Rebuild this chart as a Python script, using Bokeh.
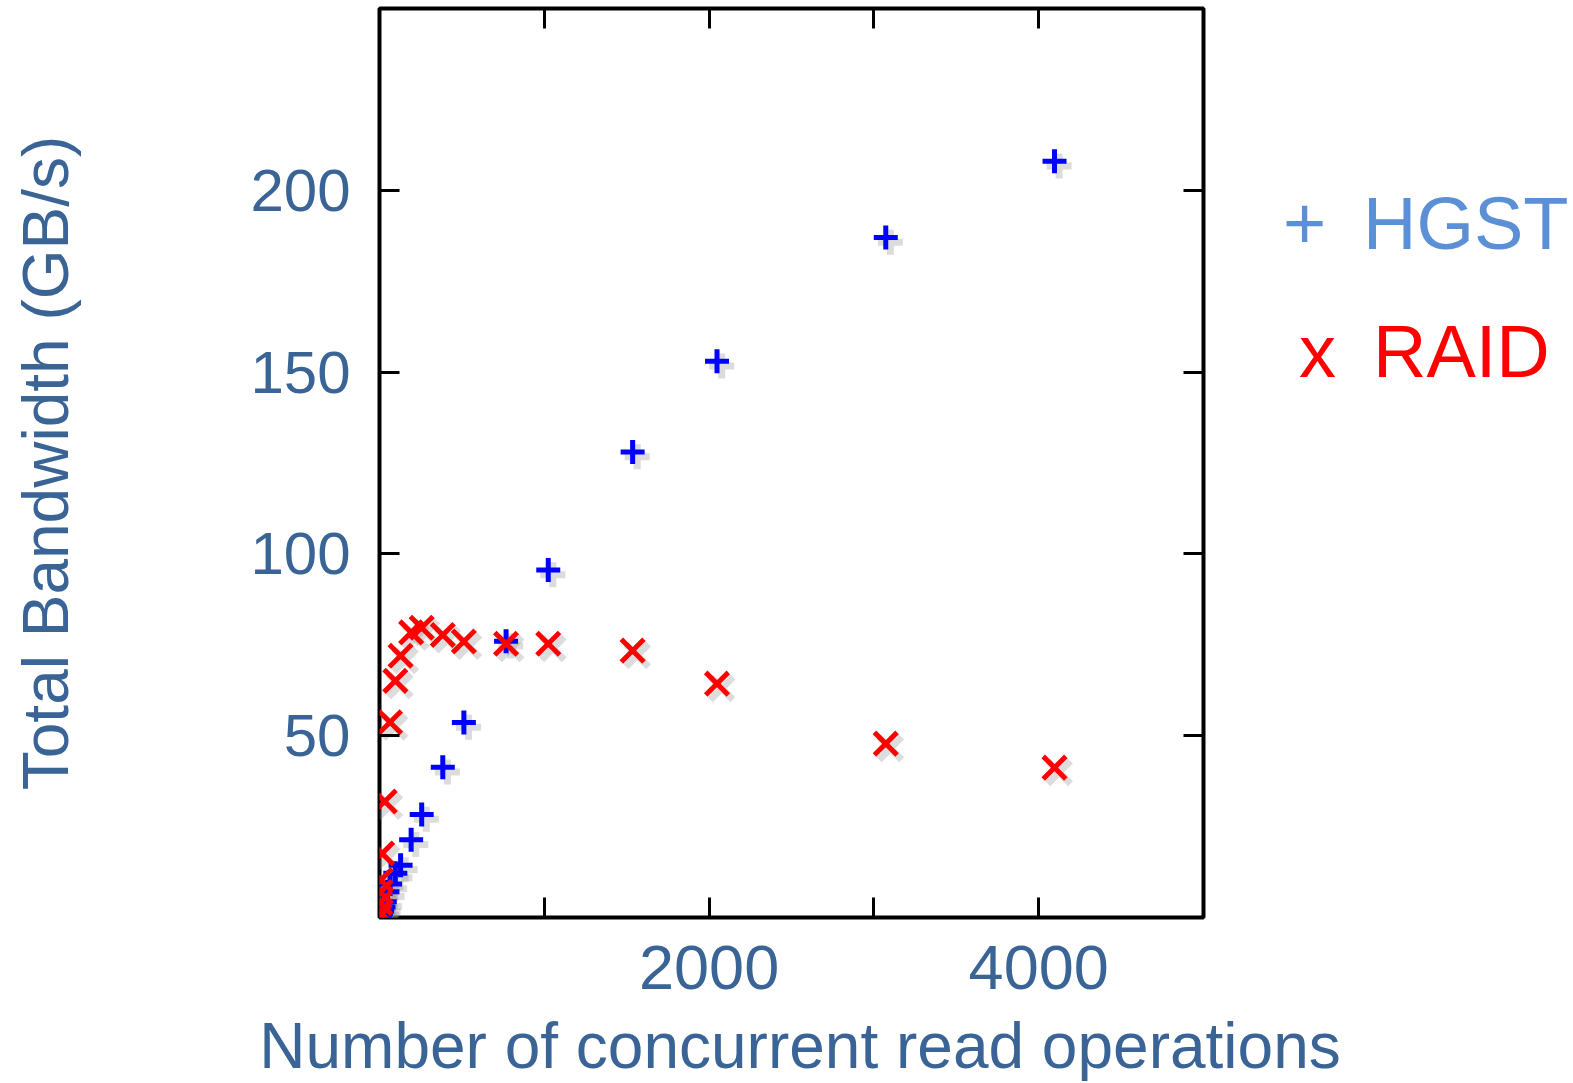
from bokeh.plotting import figure
from bokeh.models import ColumnDataSource, FixedTicker, LinearAxis, Div
from bokeh.layouts import row, column
from bokeh.transform import dodge
from bokeh.embed import file_html
from bokeh.resources import INLINE

# ---- data ----
hgst_ops = [1, 2, 4, 8, 16, 24, 32, 48, 64, 96, 128, 192, 256, 384, 512, 768,
            1024, 1536, 2048, 3072, 4096]
hgst_bw = [0.1, 0.3, 0.5, 1.0, 1.8, 2.9, 4.3, 7.1, 9.2, 12.2, 14.4, 21.4, 28.3,
           41.3, 53.6, 76.0, 95.6, 128.0, 153.0, 187.0, 208.0]

raid_ops = [1, 2, 4, 6, 8, 16, 32, 64, 96, 128, 192, 256, 384, 512, 768,
            1024, 1536, 2048, 3072, 4096]
raid_bw = [0.4, 1.6, 4.0, 7.0, 10.3, 17.6, 31.9, 53.7, 65.1, 72.0, 78.4, 79.7,
           77.7, 75.9, 75.3, 75.3, 73.4, 64.3, 47.8, 41.2]

x_major_ticks = [2000, 4000]
x_minor_ticks = [1000, 3000]
y_ticks = [50, 100, 150, 200]

series_names = ["HGST", "RAID"]
series_symbols = ["+", "x"]
legend_colors = ["#5B8FD6", "#FF0000"]

x_title = "Number of concurrent read operations"
y_title = "Total Bandwidth (GB/s)"

TXT = "#3A6496"
FONT = "Liberation Sans"
MAIN_W, MAIN_H = 1223, 1010
LEG_W = 350
TITLE_H = 70

hgst = ColumnDataSource(dict(x=hgst_ops, y=hgst_bw))
raid = ColumnDataSource(dict(x=raid_ops, y=raid_bw))

p = figure(width=MAIN_W, height=MAIN_H, x_range=(0, 5000), y_range=(0, 250),
           output_backend="svg", toolbar_location=None,
           min_border_left=379, min_border_right=20,
           min_border_top=8, min_border_bottom=93,
           y_axis_label=y_title)
p.grid.visible = False
p.outline_line_color = "black"
p.outline_line_width = 4
p.background_fill_color = "white"
p.border_fill_color = "white"

# mirrored axes (ticks only)
p.add_layout(LinearAxis(), "above")
p.add_layout(LinearAxis(), "right")

for ax in p.xaxis:
    ax.ticker = FixedTicker(ticks=x_major_ticks, minor_ticks=x_minor_ticks)
for ax in p.yaxis:
    ax.ticker = FixedTicker(ticks=y_ticks, minor_ticks=[])

for ax in p.axis:
    ax.axis_line_color = None
    ax.major_tick_in = 20
    ax.major_tick_out = 0
    ax.minor_tick_in = 20
    ax.minor_tick_out = 0
    ax.major_tick_line_width = 3
    ax.minor_tick_line_width = 3
    ax.major_tick_line_color = "black"
    ax.minor_tick_line_color = "black"
    ax.major_label_text_font = FONT
    ax.major_label_text_color = TXT
    ax.axis_label_text_font = FONT
    ax.axis_label_text_color = TXT
    ax.axis_label_text_font_style = "normal"

for ax in [p.above[0], p.right[0]]:
    ax.major_label_text_color = None
    ax.major_label_text_font_size = "1px"
    ax.major_label_standoff = 0

xb = p.below[0]
xb.major_label_text_font_size = "63px"
xb.major_label_standoff = 28

yl = p.left[0]
yl.major_label_text_font_size = "60px"
yl.major_label_standoff = 29
yl.axis_label_text_font_size = "64px"
yl.axis_label_standoff = 165

# soft drop shadows
sx, sy = 28, -1.3
p.scatter(dodge("x", sx, range=p.x_range), dodge("y", sy, range=p.y_range),
          source=hgst, marker="cross", size=25, line_width=7,
          line_color="#8a8a8a", line_alpha=0.3)
p.scatter(dodge("x", sx, range=p.x_range), dodge("y", sy, range=p.y_range),
          source=raid, marker="x", size=32, line_width=7,
          line_color="#8a8a8a", line_alpha=0.3)

p.scatter("x", "y", source=hgst, marker="cross", size=24, line_width=5,
          line_color="#0000FF")
p.scatter("x", "y", source=raid, marker="x", size=32, line_width=5,
          line_color="#FF0000")

# ---- legend (HTML text, absolutely positioned) ----
span = ('<span style="position:absolute;left:{l}px;top:{t}px;'
        'font-family:\'{f}\';font-size:74px;line-height:74px;'
        'white-space:nowrap;color:{c};">{s}</span>')
sym_left = [60, 76]
name_left = [140, 150]
line_top = [187, 315]
parts = []
for name, sym, col, ls, ln, t in zip(series_names, series_symbols,
                                    legend_colors, sym_left, name_left,
                                    line_top):
    parts.append(span.format(l=ls, t=t, f=FONT, c=col, s=sym))
    parts.append(span.format(l=ln, t=t, f=FONT, c=col, s=name))
leg_html = ('<div style="position:relative;width:{w}px;height:{h}px;'
            'margin:0;padding:0;">'.format(w=LEG_W, h=MAIN_H)
            + "".join(parts) + "</div>")
leg = Div(text=leg_html, width=LEG_W, height=MAIN_H, margin=0)

# ---- x-axis title strip ----
title_html = ('<div style="position:relative;width:{w}px;height:{h}px;'
              'margin:0;padding:0;">'
              '<span style="position:absolute;left:0;width:{w2}px;top:4px;'
              'text-align:center;font-family:\'{f}\';font-size:64px;'
              'line-height:64px;white-space:nowrap;color:{c};">{t}</span>'
              '</div>').format(w=MAIN_W + LEG_W, h=TITLE_H, w2=1600,
                               f=FONT, c=TXT, t=x_title)
tdiv = Div(text=title_html, width=MAIN_W + LEG_W, height=TITLE_H, margin=0)

layout = column(row(p, leg), tdiv)
open("out.html", "w").write(file_html(layout, INLINE))
